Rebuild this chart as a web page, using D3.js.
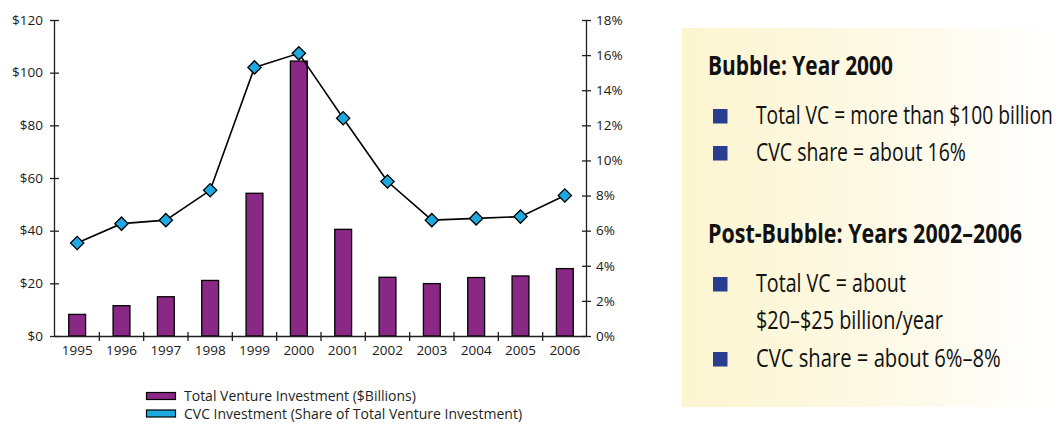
<!DOCTYPE html>
<html lang="en">
<head>
	<meta charset="utf-8">
	<title>Venture investment and CVC share</title>
	<script type="text/javascript" src="https://cdn.jsdelivr.net/npm/d3@7"></script>
	<style>
		body { margin: 0; background: #fff; }
		text { font-family: "Open Sans", "Noto Sans", sans-serif; fill: #231f20; }
		.axis path, .axis line { stroke: #231f20; stroke-width: 1.3; }
		.axis text { font-size: 13.5px; fill: #1a1a1a; }
	</style>
</head>
<body>
	<script type="text/javascript">
		var w = 1058;
		var h = 429;

		// chart data
		var years = ["1995", "1996", "1997", "1998", "1999", "2000", "2001", "2002", "2003", "2004", "2005", "2006"];
		var totalVC = [8.2, 11.5, 14.9, 21.1, 54.2, 104.4, 40.5, 22.3, 19.9, 22.2, 22.8, 25.6];
		var cvcShare = [5.3, 6.4, 6.6, 8.3, 15.3, 16.1, 12.4, 8.8, 6.6, 6.7, 6.8, 8.0];
		var leftTicks = [0, 20, 40, 60, 80, 100, 120];
		var rightTicks = [0, 2, 4, 6, 8, 10, 12, 14, 16, 18];
		var legendLabels = ["Total Venture Investment ($Billions)", "CVC Investment (Share of Total Venture Investment)"];

		// side panel text
		var headings = ["Bubble: Year 2000", "Post-Bubble: Years 2002\u20132006"];
		var bubbleBullets = [["Total VC = more than $100 billion"], ["CVC share = about 16%"]];
		var postBullets = [["Total VC = about", "$20\u2013$25 billion/year"], ["CVC share = about 6%\u20138%"]];

		var purple = "#8a2885";
		var cyan = "#1eaae0";

		var svg = d3.select("body")
					.append("svg")
					.attr("width", w)
					.attr("height", h);

		var x = d3.scaleBand().domain(years).range([55, 587]).paddingInner(0.62).paddingOuter(0.31);
		var xb = d3.scaleBand().domain(years).range([55, 587]);
		var yL = d3.scaleLinear().domain([0, 120]).range([336, 20]);
		var yR = d3.scaleLinear().domain([0, 18]).range([336, 20]);

		// bars
		svg.append("g").selectAll("rect")
		   .data(totalVC)
		   .enter()
		   .append("rect")
		   .attr("x", function(d, i) { return x(years[i]); })
		   .attr("y", function(d) { return yL(d); })
		   .attr("width", x.bandwidth())
		   .attr("height", function(d) { return yL(0) - yL(d); })
		   .attr("fill", purple)
		   .attr("stroke", "#000")
		   .attr("stroke-width", 1.3);

		// axes
		var left = svg.append("g").attr("class", "axis")
			.attr("transform", "translate(54.5,0)")
			.call(d3.axisLeft(yL).tickValues(leftTicks).tickSize(4.5).tickPadding(7)
				.tickFormat(function(d) { return "$" + d; }));
		left.selectAll(".tick line").attr("x2", -4.5).attr("x1", 4.5);
		left.select(".domain").attr("d", "M0,20V336");

		var right = svg.append("g").attr("class", "axis")
			.attr("transform", "translate(586.5,0)")
			.call(d3.axisRight(yR).tickValues(rightTicks).tickSize(4.5).tickPadding(5)
				.tickFormat(function(d) { return d + "%"; }));
		right.selectAll(".tick line").attr("x1", -4.5).attr("x2", 4.5);
		right.select(".domain").attr("d", "M0,20V336");

		var bottom = svg.append("g").attr("class", "axis")
			.attr("transform", "translate(0,336.5)");
		bottom.append("line").attr("x1", 54.5).attr("x2", 586.5).attr("y1", 0).attr("y2", 0);
		bottom.selectAll(".tk")
			  .data(years.slice(1))
			  .enter()
			  .append("line")
			  .attr("x1", function(d) { return xb(d); })
			  .attr("x2", function(d) { return xb(d); })
			  .attr("y1", -4.5).attr("y2", 4.5);
		bottom.selectAll(".lbl")
			  .data(years)
			  .enter()
			  .append("text")
			  .attr("x", function(d) { return xb(d) + xb.bandwidth() / 2; })
			  .attr("y", 18.5)
			  .attr("text-anchor", "middle")
			  .text(function(d) { return d; });

		// CVC share line
		var line = d3.line()
			.x(function(d, i) { return xb(years[i]) + xb.bandwidth() / 2; })
			.y(function(d) { return yR(d); });

		svg.append("path")
		   .datum(cvcShare)
		   .attr("d", line)
		   .attr("fill", "none")
		   .attr("stroke", "#000")
		   .attr("stroke-width", 1.6);

		var diamond = d3.symbol().type(d3.symbolSquare).size(88);
		svg.append("g").selectAll("path")
		   .data(cvcShare)
		   .enter()
		   .append("path")
		   .attr("d", diamond)
		   .attr("transform", function(d, i) {
			   return "translate(" + (xb(years[i]) + xb.bandwidth() / 2) + "," + yR(d) + ") rotate(45)";
		   })
		   .attr("fill", cyan)
		   .attr("stroke", "#000")
		   .attr("stroke-width", 1.3);

		// legend
		var legend = svg.append("g").attr("transform", "translate(146,0)");
		legend.selectAll("rect")
			  .data([purple, cyan])
			  .enter()
			  .append("rect")
			  .attr("x", 0.5)
			  .attr("y", function(d, i) { return 392.5 + i * 17.5; })
			  .attr("width", 29)
			  .attr("height", 7)
			  .attr("fill", function(d) { return d; })
			  .attr("stroke", "#000")
			  .attr("stroke-width", 1.2);
		legend.selectAll("text")
			  .data(legendLabels)
			  .enter()
			  .append("text")
			  .attr("x", 38)
			  .attr("y", function(d, i) { return 401 + i * 17.5; })
			  .style("font-size", "14px")
			  .text(function(d) { return d; });

		// side panel
		var defs = svg.append("defs");
		var grad = defs.append("linearGradient").attr("id", "panelFill")
			.attr("x1", "0%").attr("x2", "100%").attr("y1", "0%").attr("y2", "0%");
		grad.append("stop").attr("offset", "0%").attr("stop-color", "#fcf5d0");
		grad.append("stop").attr("offset", "55%").attr("stop-color", "#fdf9e6");
		grad.append("stop").attr("offset", "100%").attr("stop-color", "#ffffff");

		svg.append("rect")
		   .attr("x", 682).attr("y", 28)
		   .attr("width", 376).attr("height", 379)
		   .attr("fill", "url(#panelFill)");

		var panel = svg.append("g");

		// condensed look: squeeze each text horizontally to the width seen in the picture
		var squeezed = function(str, tx, ty, len, size, weight) {
			var t = panel.append("text")
						 .attr("x", 0).attr("y", 0)
						 .style("font-size", size + "px")
						 .style("font-weight", weight)
						 .style("fill", "#111")
						 .text(str);
			var natural = t.node().getComputedTextLength();
			t.attr("transform", "translate(" + tx + "," + ty + ") scale(" + (len / natural) + ",1)");
		};

		var headingY = [75, 243];
		var headingLen = [185, 314];
		headings.forEach(function(d, i) {
			squeezed(d, 708, headingY[i], headingLen[i], 26, "bold");
		});

		var bullets = [
			{ lines: bubbleBullets[0], y: 123.5, len: [297] },
			{ lines: bubbleBullets[1], y: 160.5, len: [210] },
			{ lines: postBullets[0], y: 291.5, len: [150, 187] },
			{ lines: postBullets[1], y: 366.5, len: [245] }
		];

		bullets.forEach(function(b) {
			panel.append("rect")
				 .attr("x", 713).attr("y", b.y - 14.5)
				 .attr("width", 14.5).attr("height", 14.5)
				 .attr("fill", "#2a3d8f");
			b.lines.forEach(function(t, j) {
				squeezed(t, 756, b.y + j * 37, b.len[j], 25, "normal");
			});
		});
	</script>
</body>
</html>
